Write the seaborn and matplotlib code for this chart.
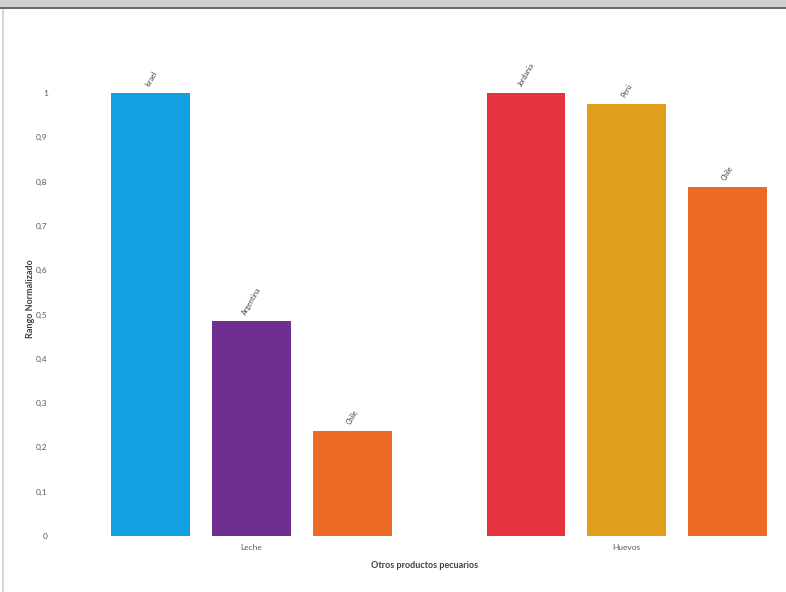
import matplotlib.pyplot as plt
import matplotlib.patches as mpatches
import seaborn as sns
import pandas as pd

# datos
productos = ['Leche', 'Huevos']
paises_leche = ['Israel', 'Argentina', 'Chile']
valores_leche = [1.0, 0.485, 0.237]
paises_huevos = ['Jordania', 'Perú', 'Chile']
valores_huevos = [1.0, 0.975, 0.788]
colores_leche = ['#149fe3', '#6e2f90', '#ec6b27']
colores_huevos = ['#e4323f', '#df9f1c', '#ec6b27']
yticks = [0, 0.1, 0.2, 0.3, 0.4, 0.5, 0.6, 0.7, 0.8, 0.9, 1]

rows = []
for i in range(3):
    rows.append({'Producto': 'Leche', 'rank': str(i), 'Pais': paises_leche[i], 'Valor': valores_leche[i]})
    rows.append({'Producto': 'Huevos', 'rank': str(i), 'Pais': paises_huevos[i], 'Valor': valores_huevos[i]})
df = pd.DataFrame(rows)

sns.set_style('white')
plt.rcParams['font.family'] = ['Lato', 'DejaVu Sans']

fig = plt.figure(figsize=(7.86, 5.92), dpi=100)
ax = fig.add_axes([70 / 786, 56 / 592, 710 / 786, 474 / 592])

sns.barplot(data=df, x='Producto', y='Valor', hue='rank', order=productos,
            hue_order=['0', '1', '2'], width=0.805, gap=0.217, legend=False,
            saturation=1, ax=ax)

etiquetas = {'Leche': paises_leche, 'Huevos': paises_huevos}
colores = {'Leche': colores_leche, 'Huevos': colores_huevos}
for i, cont in enumerate(ax.containers):
    labs = []
    for j, bar in enumerate(cont):
        bar.set_facecolor(colores[productos[j]][i])
        bar.set_edgecolor('none')
        labs.append(etiquetas[productos[j]][i])
    ax.bar_label(cont, labels=labs, rotation=60, padding=4, fontsize=5, color='#404040')

ax.set_xlim(-0.484, 1.409)
ax.set_ylim(0, 1.07)
ax.set_yticks(yticks)
ax.set_yticklabels([str(v).replace('.', ',') for v in yticks], fontsize=6, color='#595959')
ax.tick_params(axis='both', length=0, pad=16)
ax.tick_params(axis='x', pad=6, labelsize=6, labelcolor='#595959')
for s in ax.spines.values():
    s.set_visible(False)
ax.set_xlabel('Otros productos pecuarios', fontsize=6.5, fontweight='bold', color='#404040', labelpad=7)
ax.set_ylabel('Rango Normalizado', fontsize=6.5, fontweight='bold', color='#404040', labelpad=1)

# marco de la captura
fig.patches.append(mpatches.Rectangle((0, 1 - 7 / 592), 1, 7 / 592, transform=fig.transFigure,
                                      facecolor='#d0d0d2', edgecolor='none'))
fig.patches.append(mpatches.Rectangle((0, 1 - 9 / 592), 1, 2 / 592, transform=fig.transFigure,
                                      facecolor='#6a6a6a', edgecolor='none'))
fig.patches.append(mpatches.Rectangle((2 / 786, 0), 2 / 786, 1 - 9 / 592, transform=fig.transFigure,
                                      facecolor='#d8d8d8', edgecolor='none'))

fig.savefig('out.png', dpi=100)
